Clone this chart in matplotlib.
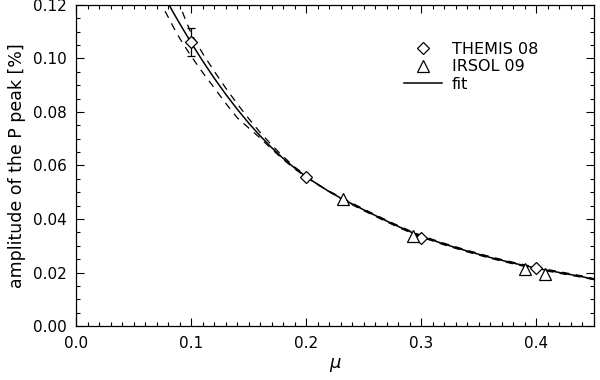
import numpy as np
import matplotlib.pyplot as plt
from matplotlib.ticker import MultipleLocator

# data
themis_mu = [0.100, 0.200, 0.300, 0.400]
themis_amp = [0.1060, 0.0557, 0.0330, 0.0218]
themis_err = [0.0052, 0.0, 0.0, 0.0]

irsol_mu = [0.232, 0.293, 0.390, 0.407]
irsol_amp = [0.0474, 0.0336, 0.0215, 0.0193]

mu_fit = [0.070, 0.075, 0.080, 0.085, 0.090, 0.095, 0.100, 0.110, 0.120, 0.130,
          0.140, 0.150, 0.160, 0.170, 0.180, 0.190, 0.200, 0.210, 0.220, 0.230,
          0.240, 0.250, 0.260, 0.270, 0.280, 0.290, 0.300, 0.320, 0.340, 0.360,
          0.380, 0.400, 0.420, 0.440, 0.450]
fit = [0.1286, 0.1246, 0.1206, 0.1167, 0.1130, 0.1094, 0.1058, 0.0990, 0.0926, 0.0866,
       0.0810, 0.0758, 0.0710, 0.0666, 0.0626, 0.0590, 0.0558, 0.0529, 0.0502, 0.0478,
       0.0456, 0.0434, 0.0413, 0.0392, 0.0372, 0.0353, 0.0335, 0.0306, 0.0280, 0.0256,
       0.0235, 0.0216, 0.0200, 0.0184, 0.0175]
fit_hi = [0.1446, 0.1381, 0.1316, 0.1257, 0.1200, 0.1144, 0.1093, 0.1018, 0.0952, 0.0889,
          0.0830, 0.0775, 0.0723, 0.0676, 0.0633, 0.0594, 0.0561, 0.0530, 0.0502, 0.0476,
          0.0453, 0.0431, 0.0410, 0.0389, 0.0369, 0.0350, 0.0332, 0.0303, 0.0277, 0.0253,
          0.0232, 0.0213, 0.0197, 0.0182, 0.0173]
fit_lo = [0.1236, 0.1195, 0.1154, 0.1113, 0.1075, 0.1041, 0.1008, 0.0947, 0.0890, 0.0832,
          0.0778, 0.0740, 0.0702, 0.0661, 0.0622, 0.0587, 0.0556, 0.0528, 0.0504, 0.0481,
          0.0459, 0.0437, 0.0416, 0.0395, 0.0375, 0.0356, 0.0338, 0.0309, 0.0283, 0.0259,
          0.0238, 0.0219, 0.0203, 0.0187, 0.0177]

plt.rcParams['font.family'] = 'DejaVu Sans'
plt.rcParams['font.size'] = 11

fig = plt.figure(figsize=(6, 3.8), dpi=100)
ax = fig.add_axes([0.127, 0.142, 0.863, 0.845])

fit_line, = ax.plot(mu_fit, fit, color='k', lw=1.1)
ax.plot(mu_fit, fit_hi, color='k', lw=0.9, dashes=(6, 5))
ax.plot(mu_fit, fit_lo, color='k', lw=0.9, dashes=(6, 5))

ax.errorbar(themis_mu, themis_amp, yerr=themis_err, fmt='none', ecolor='k',
            elinewidth=0.9, capsize=3, capthick=0.9)
themis, = ax.plot(themis_mu, themis_amp, 'D', ms=6.5, mfc='white', mec='k', mew=0.9)
irsol, = ax.plot(irsol_mu, irsol_amp, '^', ms=8, mfc='white', mec='k', mew=0.9)

ax.set_xlim(0, 0.45)
ax.set_ylim(0, 0.12)
ax.xaxis.set_major_locator(MultipleLocator(0.1))
ax.xaxis.set_minor_locator(MultipleLocator(0.01))
ax.yaxis.set_major_locator(MultipleLocator(0.02))
ax.yaxis.set_minor_locator(MultipleLocator(0.005))
ax.xaxis.set_major_formatter(plt.FormatStrFormatter('%.1f'))
ax.yaxis.set_major_formatter(plt.FormatStrFormatter('%.2f'))
ax.tick_params(which='both', direction='in', top=True, right=True, width=0.8)
ax.tick_params(which='major', length=6, pad=7)
ax.tick_params(which='minor', length=3)
for s in ax.spines.values():
    s.set_linewidth(0.9)

ax.set_xlabel(r'$\mu$', fontsize=13, labelpad=4)
ax.set_ylabel('amplitude of the P peak [%]', fontsize=12.5, labelpad=5)

ax.legend([themis, irsol, fit_line], ['THEMIS 08', 'IRSOL 09', 'fit'],
          loc='upper left', bbox_to_anchor=(0.605, 0.93), frameon=False,
          handlelength=2.4, labelspacing=0.15, handletextpad=0.6, fontsize=11.5)

fig.savefig('out.png', dpi=100)
